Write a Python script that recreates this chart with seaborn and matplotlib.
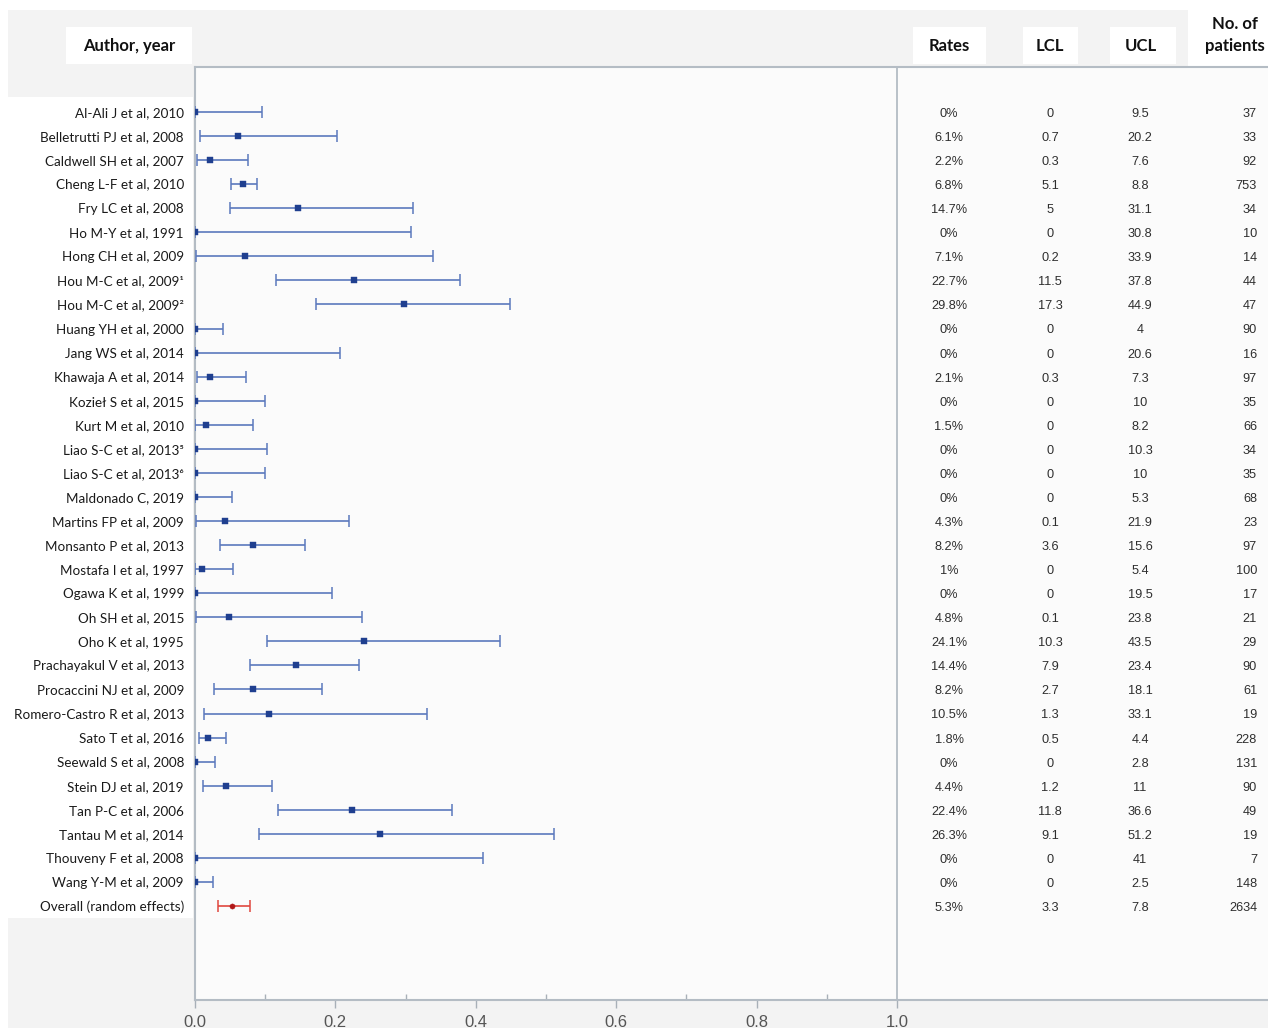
import matplotlib
matplotlib.use("Agg")
import matplotlib.pyplot as plt
from matplotlib.patches import Rectangle
import seaborn as sns
import pandas as pd

# Study labels, event rates (%), confidence limits (%) and sample sizes
authors = [
    "Al-Ali J et al, 2010", "Belletrutti PJ et al, 2008", "Caldwell SH et al, 2007",
    "Cheng L-F et al, 2010", "Fry LC et al, 2008", "Ho M-Y et al, 1991",
    "Hong CH et al, 2009", "Hou M-C et al, 2009\u00b9", "Hou M-C et al, 2009\u00b2",
    "Huang YH et al, 2000", "Jang WS et al, 2014", "Khawaja A et al, 2014",
    "Kozie\u0142 S et al, 2015", "Kurt M et al, 2010", "Liao S-C et al, 2013\u2075",
    "Liao S-C et al, 2013\u2076", "Maldonado C, 2019", "Martins FP et al, 2009",
    "Monsanto P et al, 2013", "Mostafa I et al, 1997", "Ogawa K et al, 1999",
    "Oh SH et al, 2015", "Oho K et al, 1995", "Prachayakul V et al, 2013",
    "Procaccini NJ et al, 2009", "Romero-Castro R et al, 2013", "Sato T et al, 2016",
    "Seewald S et al, 2008", "Stein DJ et al, 2019", "Tan P-C et al, 2006",
    "Tantau M et al, 2014", "Thouveny F et al, 2008", "Wang Y-M et al, 2009",
    "Overall (random effects)",
]
rates = [0, 6.1, 2.2, 6.8, 14.7, 0, 7.1, 22.7, 29.8, 0, 0, 2.1, 0, 1.5, 0, 0, 0,
         4.3, 8.2, 1, 0, 4.8, 24.1, 14.4, 8.2, 10.5, 1.8, 0, 4.4, 22.4, 26.3, 0, 0, 5.3]
lcl = [0, 0.7, 0.3, 5.1, 5, 0, 0.2, 11.5, 17.3, 0, 0, 0.3, 0, 0, 0, 0, 0,
       0.1, 3.6, 0, 0, 0.1, 10.3, 7.9, 2.7, 1.3, 0.5, 0, 1.2, 11.8, 9.1, 0, 0, 3.3]
ucl = [9.5, 20.2, 7.6, 8.8, 31.1, 30.8, 33.9, 37.8, 44.9, 4, 20.6, 7.3, 10, 8.2,
       10.3, 10, 5.3, 21.9, 15.6, 5.4, 19.5, 23.8, 43.5, 23.4, 18.1, 33.1, 4.4,
       2.8, 11, 36.6, 51.2, 41, 2.5, 7.8]
patients = [37, 33, 92, 753, 34, 10, 14, 44, 47, 90, 16, 97, 35, 66, 34, 35, 68,
            23, 97, 100, 17, 21, 29, 90, 61, 19, 228, 131, 90, 49, 19, 7, 148, 2634]
x_ticks = [0.0, 0.2, 0.4, 0.6, 0.8, 1.0]
x_minor = [0.1, 0.3, 0.5, 0.7, 0.9]
headers = ["Rates", "LCL", "UCL"]

df = pd.DataFrame({
    "author": authors,
    "row": range(len(authors)),
    "rate": [r / 100 for r in rates],
    "lo": [v / 100 for v in lcl],
    "hi": [v / 100 for v in ucl],
    "n": patients,
})
df["kind"] = ["study"] * (len(df) - 1) + ["overall"]

sns.set_theme(style="white")
plt.rcParams["font.family"] = ["Lato", "DejaVu Sans"]

W, H = 1268, 1028
fig = plt.figure(figsize=(W / 100, H / 100), dpi=100, facecolor="white")


def fx(px):
    return px / W


def fy(py):
    return 1 - py / H


def rect(x0, y0, x1, y1, color, z=-10):
    fig.patches.append(Rectangle((fx(x0), fy(y1)), fx(x1) - fx(x0), fy(y0) - fy(y1),
                                 transform=fig.transFigure, facecolor=color,
                                 edgecolor="none", zorder=z))


panel = "#f3f3f3"
rect(8, 10, 1188, 1028, panel)
rect(1188, 67, 1268, 1028, panel)
rect(8, 97, 193, 918, "white", -9)
# header boxes
rect(66, 27, 192, 64, "white", -9)
rect(913, 27, 986, 64, "white", -9)
rect(1023, 27, 1078, 64, "white", -9)
rect(1110, 27, 1176, 64, "white", -9)

ax_left, ax_right, ax_top, ax_bottom = 195, 1268, 67, 1000
ax = fig.add_axes([fx(ax_left), fy(ax_bottom), fx(ax_right) - fx(ax_left),
                   fy(ax_top) - fy(ax_bottom)])
ax.set_facecolor("#fbfbfb")

px_per_unit = 702.0
row_top_px, row_step = 112, (906 - 112) / 33
ax.set_xlim(0, (ax_right - ax_left) / px_per_unit)
ax.set_ylim((ax_bottom - row_top_px) / row_step, -(row_top_px - ax_top) / row_step)

blue_line = "#5b79bd"
blue_mark = "#1f3f8f"
red_line = "#e0473f"
red_mark = "#b01818"

for kind, lc in [("study", blue_line), ("overall", red_line)]:
    sub = df[df["kind"] == kind]
    ax.errorbar(sub["rate"], sub["row"],
                xerr=[sub["rate"] - sub["lo"], sub["hi"] - sub["rate"]],
                fmt="none", ecolor=lc, elinewidth=1.2, capsize=4.2, capthick=1.1,
                zorder=3)

sns.scatterplot(data=df[df["kind"] == "study"], x="rate", y="row", marker="s",
                s=22, color=blue_mark, edgecolor=blue_mark, linewidth=0.3,
                ax=ax, zorder=4, legend=False)
sns.scatterplot(data=df[df["kind"] == "overall"], x="rate", y="row", marker="o",
                s=14, color=red_mark, edgecolor=red_mark, linewidth=0.3,
                ax=ax, zorder=4, legend=False)

# study labels as y tick labels
ax.set_yticks(df["row"], df["author"])
ax.tick_params(axis="y", length=0, pad=8, labelsize=9.7, labelcolor="#1a1a1a")

ax.set_xticks(x_ticks, [f"{t:.1f}" for t in x_ticks])
ax.set_xticks(x_minor, minor=True)
ax.tick_params(axis="x", which="major", direction="out", length=6, width=1,
               color="#a8b0b8", labelsize=12, labelcolor="#555555", pad=5,
               bottom=True)
ax.tick_params(axis="x", which="minor", direction="in", length=4, width=1,
               color="#a8b0b8", bottom=True)
for lab in ax.get_xticklabels():
    lab.set_fontfamily(["Liberation Sans", "DejaVu Sans"])
ax.set_xlabel("")
ax.set_ylabel("")

spine_c = "#b4bcc4"
for side in ["left", "bottom", "top"]:
    ax.spines[side].set_visible(True)
    ax.spines[side].set_color(spine_c)
    ax.spines[side].set_linewidth(1.5)
ax.spines["right"].set_visible(False)
ax.axvline(1.0, color=spine_c, lw=1.3, zorder=2)

# table columns to the right of the 1.0 line
col_x = {"rate": (949 - ax_left) / px_per_unit, "lo": (1050 - ax_left) / px_per_unit,
         "hi": (1140 - ax_left) / px_per_unit, "n": (1257 - ax_left) / px_per_unit}
tfont = dict(fontsize=9.2, color="#2e2e2e", family=["Liberation Sans", "DejaVu Sans"],
             va="center")
dy = 0.08
for i in range(len(df)):
    ax.text(col_x["rate"], i + dy, f"{rates[i]:g}%", ha="center", **tfont)
    ax.text(col_x["lo"], i + dy, f"{lcl[i]:g}", ha="center", **tfont)
    ax.text(col_x["hi"], i + dy, f"{ucl[i]:g}", ha="center", **tfont)
    ax.text(col_x["n"], i + dy, f"{patients[i]}", ha="right", **tfont)

# column headers
hfont = dict(fontsize=12, fontweight="bold", color="#111111", zorder=5)
fig.text(fx(129), fy(46), "Author, year", ha="center", va="center", **hfont)
for name, cx in zip(headers, [949, 1050, 1141]):
    fig.text(fx(cx), fy(46), name, ha="center", va="center", **hfont)
fig.text(fx(1235), fy(35), "No. of\npatients", ha="center", va="center",
         linespacing=1.45, **hfont)

fig.savefig("out.png", dpi=100, facecolor="white")
